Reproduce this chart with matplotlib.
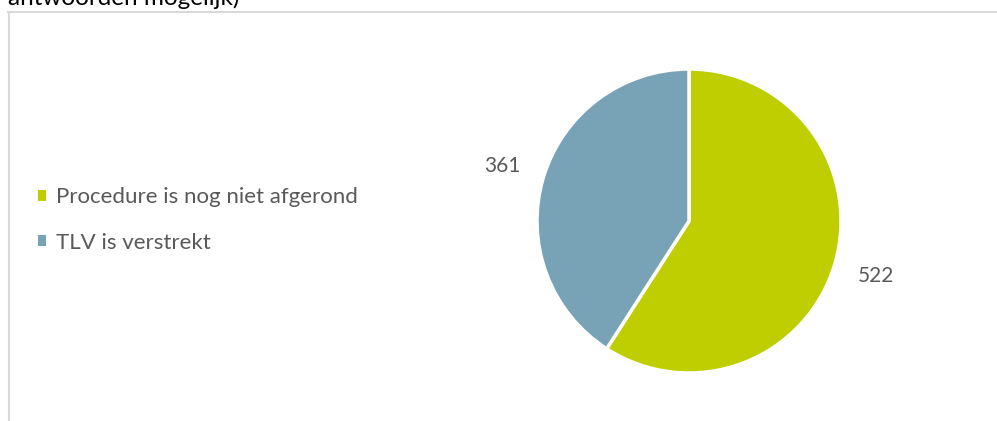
import matplotlib.pyplot as plt
from matplotlib.lines import Line2D
from matplotlib.patches import Patch

categories = ["Procedure is nog niet afgerond", "TLV is verstrekt"]
values = [522, 361]
colors = ["#BFCE00", "#78A2B5"]
text_grey = "#595959"

W, H = 997, 421
fig = plt.figure(figsize=(W / 100, H / 100), dpi=100)
plt.rcParams['font.family'] = ['Lato', 'DejaVu Sans']

# pie axes: centre (689, 221) px from top-left, radius 152 px
cx, cy, r = 689, 221, 152
ax = fig.add_axes([(cx - r) / W, (H - cy - r) / H, 2 * r / W, 2 * r / H])
wedges, texts = ax.pie(values, labels=[str(v) for v in values], colors=colors,
                       startangle=90, counterclock=False, labeldistance=1.28,
                       wedgeprops=dict(edgecolor="white", linewidth=2.5),
                       textprops=dict(color=text_grey, fontsize=15))
for t in texts:
    t.set_ha("center")
    t.set_va("center")
ax.set_xlim(-1, 1)
ax.set_ylim(-1, 1)
ax.set_aspect("equal")
ax.axis("off")

handles = [Patch(facecolor=c, edgecolor="none") for c in colors]
fig.legend(handles, categories, loc="center left", bbox_to_anchor=(38 / W, 1 - 220 / H),
           frameon=False, borderpad=0, borderaxespad=0,
           handlelength=0.36, handleheight=0.36, handletextpad=0.45,
           labelspacing=1.15, fontsize=16, labelcolor=text_grey)

# chart border (top and left, as cropped)
fig.add_artist(Line2D([8.5 / W, 8.5 / W], [0, 1 - 12 / H], color="#D9D9D9", lw=1.5,
                      transform=fig.transFigure))
fig.add_artist(Line2D([8 / W, 996 / W], [1 - 12 / H, 1 - 12 / H], color="#D9D9D9", lw=1.5,
                      transform=fig.transFigure))

# cropped title line above the chart
fig.text(8 / W, 1 - 5 / H, "antwoorden mogelijk)", fontsize=17.5, color="#000000",
         ha="left", va="baseline")

fig.savefig("out.png", dpi=100)
